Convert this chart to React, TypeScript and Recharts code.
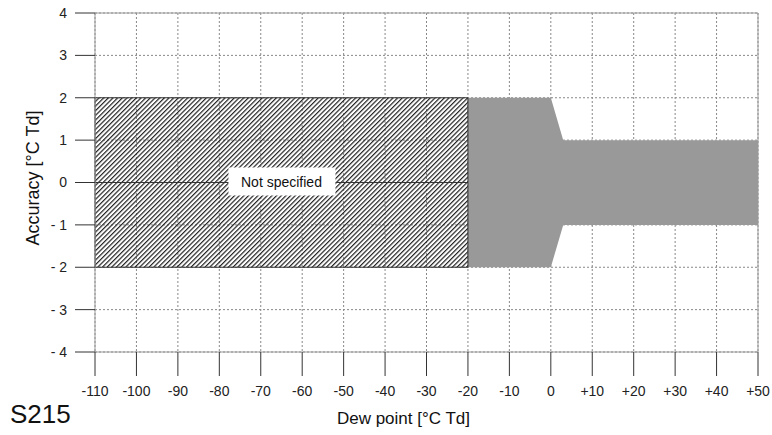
import React from 'react';
import {
  ComposedChart,
  Area,
  XAxis,
  YAxis,
  CartesianGrid,
  ReferenceArea,
  ReferenceLine,
  ReferenceDot,
  Label,
} from 'recharts';

// ---- data ----
const xTicks = [-110, -100, -90, -80, -70, -60, -50, -40, -30, -20, -10, 0, 10, 20, 30, 40, 50];
const xTickLabels = ['-110', '-100', '-90', '-80', '-70', '-60', '-50', '-40', '-30', '-20', '-10', '0', '+10', '+20', '+30', '+40', '+50'];
const yTicks = [-4, -3, -2, -1, 0, 1, 2, 3, 4];
const yTickLabels = ['- 4', '- 3', '- 2', '- 1', '0', '1', '2', '3', '4'];

// specified accuracy band (dew point vs ± accuracy)
const accuracyX = [-20, 0, 3, 50];
const accuracyLow = [-2, -2, -1, -1];
const accuracyHigh = [2, 2, 1, 1];

// not-specified region
const unspecifiedX = [-110, -20];
const unspecifiedY = [-2, 0, 2];
const unspecifiedLabel = 'Not specified';
const unspecifiedLabelAt = [-65, 0];

const xTitle = 'Dew point [°C Td]';
const yTitle = 'Accuracy [°C Td]';
const modelName = 'S215';

const data = accuracyX.map((x, i) => ({ x, range: [accuracyLow[i], accuracyHigh[i]] }));

const FONT = '"Liberation Sans", Arial, Helvetica, sans-serif';

const XTitle = (props: any) => {
  const vb = props.viewBox || {};
  const cx = vb.x + vb.width / 2 - 23;
  return (
    <g>
      <text x={10} y={423} fontSize={26} fill="#111" fontFamily={FONT}>
        {modelName}
      </text>
      <text x={cx} y={424} fontSize={17} fill="#111" textAnchor="middle" fontFamily={FONT}>
        {xTitle}
      </text>
    </g>
  );
};

const YTitle = (props: any) => {
  const vb = props.viewBox || {};
  const cy = vb.y + vb.height / 2 - 4.5;
  const cx = 38.5;
  return (
    <text
      x={cx}
      y={cy}
      fontSize={18}
      fill="#111"
      textAnchor="middle"
      fontFamily={FONT}
      transform={`rotate(-90, ${cx}, ${cy})`}
    >
      {yTitle}
    </text>
  );
};

const NotSpecifiedBox = (props: any) => {
  const vb = props.viewBox || {};
  const cx = vb.x + (vb.width || 0) / 2;
  const cy = vb.y + (vb.height || 0) / 2;
  return (
    <g>
      <rect x={cx - 53} y={cy - 15} width={107} height={28} fill="#fff" />
      <text x={cx} y={cy + 4} fontSize={14} fill="#111" textAnchor="middle" fontFamily={FONT}>
        {unspecifiedLabel}
      </text>
    </g>
  );
};

export default function App() {
  return (
    <div style={{ position: 'absolute', left: 0, top: 0, width: 772, height: 435, background: '#fff', fontFamily: FONT }}>
      <ComposedChart width={772} height={435} data={data} margin={{ top: 13, right: 14, bottom: 0, left: 0 }}>
        <defs>
          <pattern id="hatch" patternUnits="userSpaceOnUse" width="3.3" height="10" patternTransform="rotate(45)">
            <line x1="0.6" y1="0" x2="0.6" y2="10" stroke="#222" strokeWidth="1.2" />
          </pattern>
        </defs>
        <CartesianGrid stroke="#888" strokeDasharray="2 2" />
        <XAxis
          type="number"
          dataKey="x"
          domain={[xTicks[0], xTicks[xTicks.length - 1]]}
          ticks={xTicks}
          interval={0}
          allowDataOverflow
          tickFormatter={(v: number) => xTickLabels[xTicks.indexOf(v)] ?? String(v)}
          tickSize={24}
          tickMargin={10}
          height={83}
          axisLine={{ stroke: '#999' }}
          tickLine={{ stroke: '#333' }}
          tick={{ fill: '#222', fontSize: 14, fontFamily: FONT }}
        >
          <Label content={XTitle} />
        </XAxis>
        <YAxis
          type="number"
          domain={[yTicks[0], yTicks[yTicks.length - 1]]}
          ticks={yTicks}
          interval={0}
          allowDataOverflow
          tickFormatter={(v: number) => yTickLabels[yTicks.indexOf(v)] ?? String(v)}
          tickSize={20}
          tickMargin={8}
          width={95}
          axisLine={{ stroke: '#999' }}
          tickLine={{ stroke: '#333' }}
          tick={{ fill: '#222', fontSize: 14, fontFamily: FONT }}
        >
          <Label content={YTitle} />
        </YAxis>
        <ReferenceLine y={yTicks[yTicks.length - 1]} stroke="#999" />
        <ReferenceLine x={xTicks[xTicks.length - 1]} stroke="#999" />
        <Area
          type="linear"
          dataKey="range"
          fill="#999"
          fillOpacity={1}
          stroke="none"
          isAnimationActive={false}
          activeDot={false}
          dot={false}
        />
        <ReferenceArea
          x1={unspecifiedX[0]}
          x2={unspecifiedX[1]}
          y1={unspecifiedY[1]}
          y2={unspecifiedY[2]}
          fill="url(#hatch)"
          fillOpacity={1}
          stroke="#333"
          strokeWidth={1}
        />
        <ReferenceArea
          x1={unspecifiedX[0]}
          x2={unspecifiedX[1]}
          y1={unspecifiedY[0]}
          y2={unspecifiedY[1]}
          fill="url(#hatch)"
          fillOpacity={1}
          stroke="#333"
          strokeWidth={1}
        />
        <ReferenceDot
          x={unspecifiedLabelAt[0]}
          y={unspecifiedLabelAt[1]}
          r={0}
          fill="none"
          stroke="none"
          label={<Label content={NotSpecifiedBox} />}
        />
      </ComposedChart>
    </div>
  );
}
